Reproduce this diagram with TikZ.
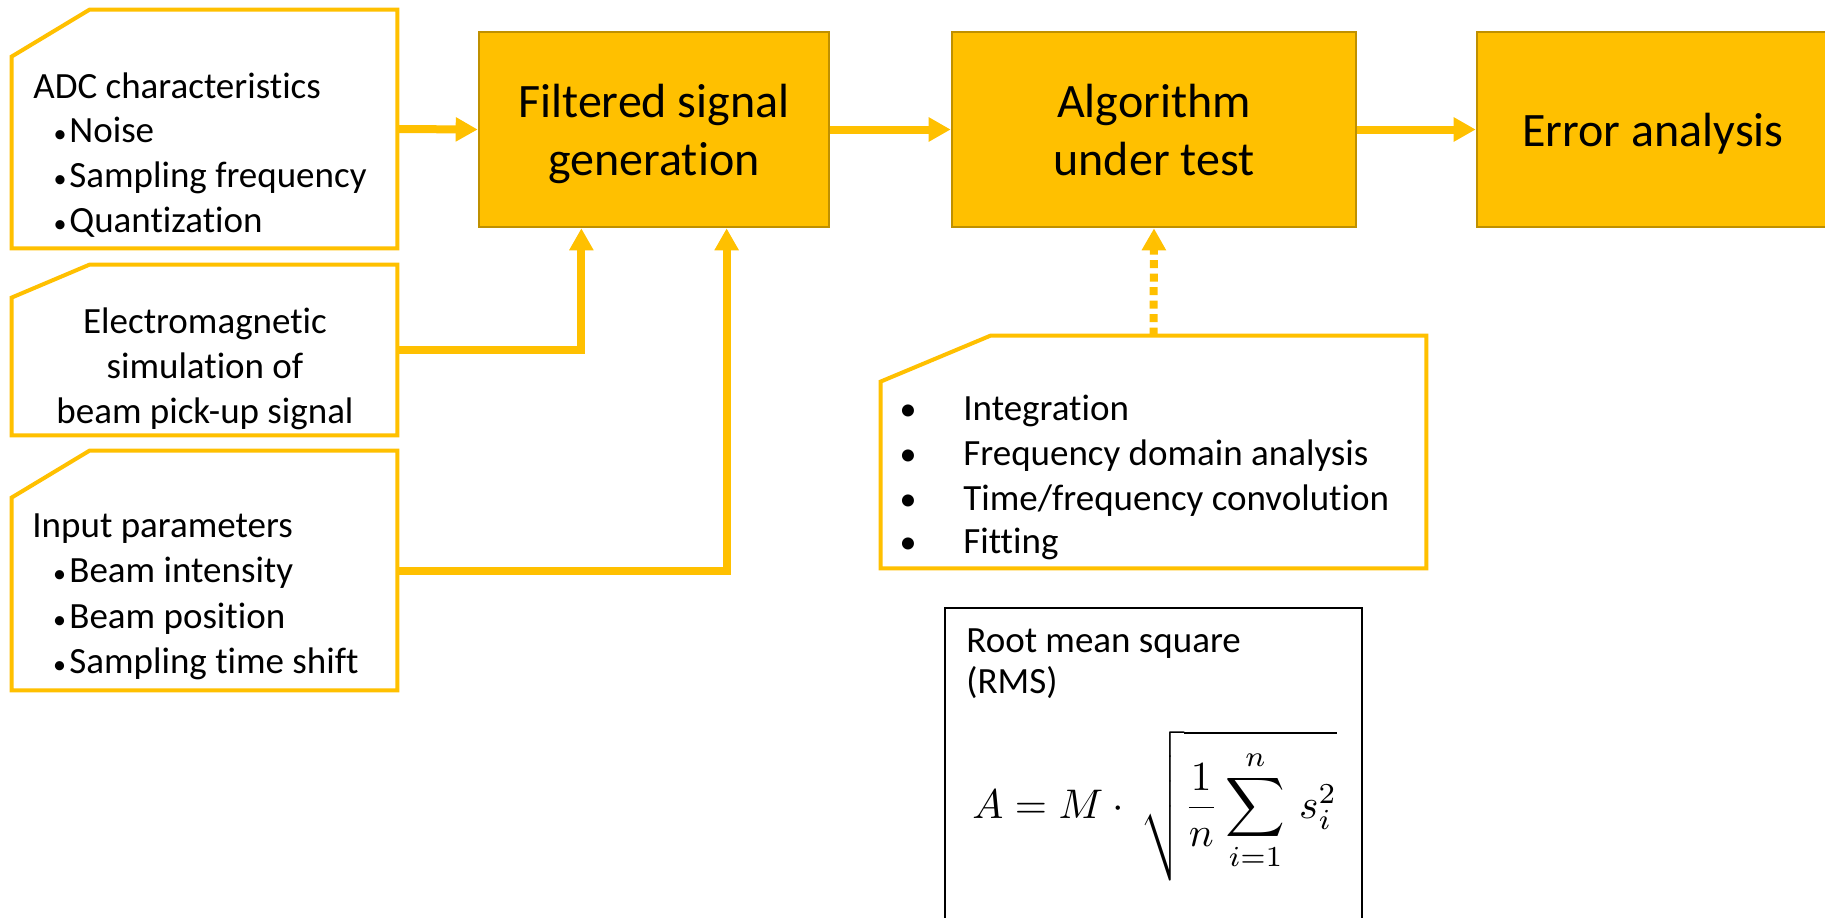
\documentclass[tikz,border=0pt]{standalone}
\usepackage{amsmath}
\usepackage{graphicx}
\usepackage{fontspec}
\setmainfont{Carlito}[Ligatures=NoCommon]
\usetikzlibrary{arrows.meta,calc}
\definecolor{gold}{HTML}{FFC000}
\definecolor{golddark}{HTML}{BF9000}
\begin{document}
\begin{tikzpicture}[x=0.5pt,y=-0.5pt,
  mainbox/.style={draw=golddark, fill=gold, line width=1.3pt, align=center,
    font=\fontsize{24}{29}\selectfont, inner sep=0pt, text depth=0pt},
  framebox/.style={inner sep=0pt, minimum width=192.5pt},
  chamf/.style={draw=gold, line width=2pt, line join=miter},
  lbl/.style={inner sep=0pt, font=\fontsize{18.5}{22.5}\selectfont, anchor=base west},
  clbl/.style={lbl, anchor=base},
  sbul/.style={inner sep=0pt, font=\fontsize{13}{15}\selectfont, anchor=base},
  bbul/.style={inner sep=0pt, font=\fontsize{17}{20}\selectfont, anchor=base},
  conn/.style={draw=gold, line width=4pt, -{Triangle[length=11pt,width=11.5pt]}},
]
\useasboundingbox (0,0) rectangle (1825,917);
\fill[white] (0,0) rectangle (1825,917);

% main process boxes
\node[mainbox, minimum width=175pt, minimum height=97.5pt] (fsg) at (654,129.5) {Filtered signal\\generation};
\node[mainbox, minimum width=202pt, minimum height=97.5pt] (alg) at (1154,129.5) {Algorithm\\under test};
\node[mainbox, minimum width=176pt, minimum height=97.5pt] (err) at (1653,129.5) {Error analysis};

% chamfered input boxes
\node[framebox, minimum height=119pt] (adc) at (204.5,129) {};
\node[framebox, minimum height=85pt] (em) at (204.5,350) {};
\node[framebox, minimum height=119.5pt] (inp) at (204.5,570.5) {};
\node[inner sep=0pt, minimum width=272.5pt, minimum height=116pt] (meth) at (1153.5,452) {};

\draw[chamf] ($(adc.north west)+(78,0)$) -- (adc.north east) -- (adc.south east) -- (adc.south west) -- ($(adc.north west)+(0,47)$) -- cycle;
\draw[chamf] ($(em.north west)+(78,0)$) -- (em.north east) -- (em.south east) -- (em.south west) -- ($(em.north west)+(0,33)$) -- cycle;
\draw[chamf] ($(inp.north west)+(78,0)$) -- (inp.north east) -- (inp.south east) -- (inp.south west) -- ($(inp.north west)+(0,47)$) -- cycle;
\draw[chamf] ($(meth.north west)+(110,0)$) -- (meth.north east) -- (meth.south east) -- (meth.south west) -- ($(meth.north west)+(0,46)$) -- cycle;

% ADC text
\node[lbl] (adc0) at (33,98) {ADC characteristics};
\node[sbul] (adcb1) at (60,142) {•}; \node[lbl] (adc1) at (69,142) {Noise};
\node[sbul] (adcb2) at (60,187) {•}; \node[lbl] (adc2) at (69,187) {Sampling frequency};
\node[sbul] (adcb3) at (60,232) {•}; \node[lbl] (adc3) at (69,232) {Quantization};

% EM text
\node[clbl] (em1) at (205,333) {Electromagnetic};
\node[clbl] (em2) at (205,378) {simulation of};
\node[clbl] (em3) at (205,423) {beam pick-up signal};

% Input text
\node[lbl] (inp0) at (32,537) {Input parameters};
\node[sbul] (inpb1) at (59.5,582) {•}; \node[lbl] (inp1) at (69,582) {Beam intensity};
\node[sbul] (inpb2) at (59.5,628) {•}; \node[lbl] (inp2) at (69,628) {Beam position};
\node[sbul] (inpb3) at (59.5,673) {•}; \node[lbl] (inp3) at (69,673) {Sampling time shift};

% method list
\node[bbul] (mb1) at (908,420) {•}; \node[lbl] (m1) at (963,420) {Integration};
\node[bbul] (mb2) at (908,465) {•}; \node[lbl] (m2) at (963,465) {Frequency domain analysis};
\node[bbul] (mb3) at (908,510) {•}; \node[lbl] (m3) at (963,510) {Time/frequency convolution};
\node[bbul] (mb4) at (908,553) {•}; \node[lbl] (m4) at (963,553) {Fitting};

% RMS box
\node[draw=black, line width=1.2pt, inner sep=0pt, minimum width=208.5pt, minimum height=170pt, anchor=north] (rms) at (1153.5,607) {};
\node[lbl] (rms0) at (966,652) {Root mean square};
\node[lbl] (rms1) at (966,693) {(RMS)};
\node[inner sep=0pt, anchor=base west, font=\normalsize] (formula) at (972,818) {\scalebox{2.07}{$\displaystyle A = M\cdot\,\sqrt{\frac{1}{n}\sum_{i=1}^{n}\, s_i^2}$}};

% connectors
\draw[conn] (adc.east) -- (fsg.west);
\draw[conn] (fsg.east) -- (alg.west);
\draw[conn] (alg.east) -- (err.west);
\coordinate (fin1) at ($(fsg.south west)!0.294!(fsg.south east)$);
\coordinate (fin2) at ($(fsg.south west)!0.706!(fsg.south east)$);
\draw[conn] (em.east) -| (fin1);
\draw[conn] (inp.east) -| (fin2);
\draw[conn, dash pattern=on 4pt off 2.75pt] (meth.north) -- (alg.south);
\end{tikzpicture}
\end{document}
